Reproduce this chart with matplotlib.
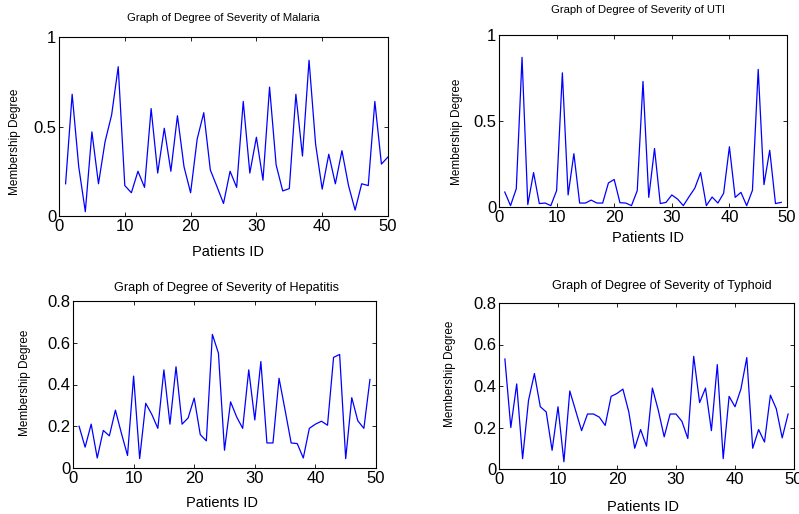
import numpy as np
import matplotlib
matplotlib.use('Agg')
import matplotlib.pyplot as plt

plt.rcParams['font.family'] = ['Liberation Sans', 'DejaVu Sans']

# membership degree per patient
malaria = [0.18, 0.68, 0.275, 0.024, 0.47, 0.18, 0.415, 0.565, 0.834, 0.17,
           0.13, 0.25, 0.16, 0.60, 0.24, 0.49, 0.25, 0.56, 0.275, 0.13,
           0.43, 0.577, 0.257, 0.165, 0.07, 0.25, 0.16, 0.64, 0.24, 0.44,
           0.20, 0.72, 0.285, 0.14, 0.153, 0.68, 0.335, 0.87, 0.40, 0.15,
           0.345, 0.18, 0.365, 0.17, 0.033, 0.18, 0.17, 0.64, 0.29, 0.33]
uti = [0.087, 0.008, 0.106, 0.87, 0.014, 0.20, 0.02, 0.023, 0.008, 0.095,
       0.78, 0.07, 0.31, 0.023, 0.023, 0.04, 0.023, 0.023, 0.14, 0.16,
       0.025, 0.023, 0.008, 0.095, 0.73, 0.056, 0.34, 0.02, 0.027, 0.07,
       0.046, 0.008, 0.06, 0.11, 0.20, 0.008, 0.058, 0.023, 0.08, 0.35,
       0.056, 0.085, 0.008, 0.097, 0.80, 0.13, 0.33, 0.02, 0.027]
hepatitis = [0.20, 0.10, 0.21, 0.048, 0.18, 0.154, 0.277, 0.165, 0.06, 0.44,
             0.045, 0.31, 0.257, 0.19, 0.47, 0.21, 0.485, 0.21, 0.24, 0.335,
             0.16, 0.13, 0.64, 0.55, 0.085, 0.317, 0.245, 0.19, 0.47, 0.23,
             0.51, 0.12, 0.12, 0.43, 0.277, 0.12, 0.117, 0.048, 0.19, 0.21,
             0.224, 0.205, 0.53, 0.544, 0.045, 0.337, 0.226, 0.19, 0.424]
typhoid = [0.53, 0.20, 0.41, 0.05, 0.33, 0.46, 0.30, 0.275, 0.09, 0.30,
           0.035, 0.376, 0.28, 0.185, 0.265, 0.265, 0.25, 0.21, 0.35, 0.364,
           0.385, 0.275, 0.10, 0.19, 0.11, 0.39, 0.283, 0.155, 0.265, 0.265,
           0.23, 0.147, 0.543, 0.32, 0.39, 0.185, 0.503, 0.05, 0.35, 0.30,
           0.385, 0.537, 0.10, 0.19, 0.13, 0.356, 0.29, 0.15, 0.265]

W, H = 799, 514
fig = plt.figure(figsize=(W / 100, H / 100), dpi=100)


def px_axes(l, t, r, b):
    return fig.add_axes([l / W, 1 - b / H, (r - l) / W, (b - t) / H])


def fig_text(x, y, s, **kw):
    fig.text(x / W, 1 - y / H, s, ha='center', va='center', **kw)


panels = [
    # data, box (l, t, r, b), ylim, yticks, yticklabels, title, title size, title pos, ylabel pos, xlabel pos
    (malaria, (59, 37, 388, 216), 1, [0, 0.5, 1], ['0', '0.5', '1'],
     'Graph of Degree of Severity of Malaria', 8.1, (223, 18), (15, 142), (228, 252)),
    (uti, (499, 35, 787, 207), 1, [0, 0.5, 1], ['0', '0.5', '1'],
     'Graph of Degree of Severity of UTI', 8.1, (638, 10), (457, 132), (648, 238)),
    (hepatitis, (73, 301, 376, 468), 0.8, [0, 0.2, 0.4, 0.6, 0.8],
     ['0', '0.2', '0.4', '0.6', '0.8'],
     'Graph of Degree of Severity of Hepatitis', 9.1, (226, 288), (25, 383), (222, 503)),
    (typhoid, (499, 303, 794, 469), 0.8, [0, 0.2, 0.4, 0.6, 0.8],
     ['0', '0.2', '0.4', '0.6', '0.8'],
     'Graph of Degree of Severity of Typhoid', 9.1, (662, 286), (450, 374), (643, 507)),
]

for data, box, ymax, yt, ytl, title, tsize, tpos, ypos, xpos in panels:
    ax = px_axes(*box)
    x = np.arange(1, len(data) + 1)
    ax.plot(x, data, color='#0000ff', linewidth=0.9)
    ax.set_xlim(0, 50)
    ax.set_ylim(0, ymax)
    ax.set_xticks([0, 10, 20, 30, 40, 50])
    ax.set_yticks(yt)
    ax.set_yticklabels(ytl)
    ax.tick_params(direction='in', top=True, right=True, length=3,
                   width=0.6, labelsize=12, pad=2)
    for s in ax.spines.values():
        s.set_linewidth(0.8)
    fig_text(*tpos, title, fontsize=tsize)
    fig_text(*ypos, 'Membership Degree', fontsize=8.5, rotation=90)
    fig_text(*xpos, 'Patients ID', fontsize=10.5)

fig.savefig('out.png', dpi=100)
